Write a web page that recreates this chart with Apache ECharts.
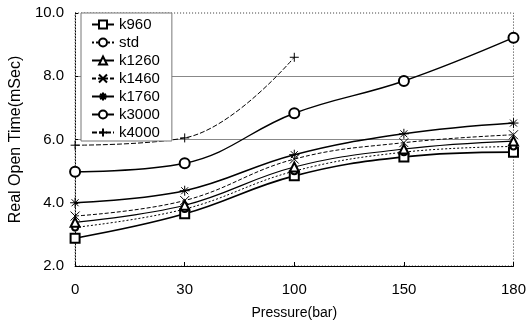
<!DOCTYPE html>
<html>
<head>
<meta charset="utf-8">
<script src="https://cdn.jsdelivr.net/npm/echarts@6/dist/echarts.min.js"></script>
<style>
  html, body { margin: 0; padding: 0; background: #fff; }
  #chart { width: 529px; height: 326px; }
</style>
</head>
<body>
<div id="chart"></div>
<script>
  // 读图估计的数据
  const pressure = ["0", "30", "100", "150", "180"];
  const k960 = [2.88, 3.65, 4.85, 5.45, 5.6];
  const std = [3.22, 3.8, 5.0, 5.6, 5.78];
  const k1260 = [3.38, 3.92, 5.13, 5.7, 5.95];
  const k1460 = [3.58, 4.07, 5.38, 5.9, 6.15];
  const k1760 = [4.0, 4.38, 5.52, 6.18, 6.52];
  const k3000 = [4.98, 5.25, 6.83, 7.85, 9.22];
  const k4000 = [5.82, 6.05, 8.6, null, null];

  const font = "Liberation Sans, Arial, sans-serif";

  const xMark = "path://M0,0L10,10M0,10L10,0";
  const starMark = "path://M0,5L10,5M5,0L5,10M1.5,1.5L8.5,8.5M1.5,8.5L8.5,1.5";
  const plusMark = "path://M0,5L10,5M5,0L5,10";

  function line(name, data, symbol, size, width, type) {
    return {
      name: name,
      type: "line",
      data: data,
      smooth: 0.4,
      symbol: symbol,
      symbolSize: size,
      showAllSymbol: true,
      connectNulls: false,
      lineStyle: { color: "#000", width: width, type: type },
      itemStyle: { color: "#000", borderColor: "#000", borderWidth: 1 },
      emphasis: { disabled: true },
    };
  }

  const chart = echarts.init(document.getElementById("chart"), null, { renderer: "canvas" });

  chart.setOption({
    animation: false,
    backgroundColor: "#fff",
    textStyle: { fontFamily: font, color: "#000" },
    grid: {
      left: 73,
      right: 13,
      top: 13,
      bottom: 60,
      show: true,
      borderColor: "#333",
      borderWidth: 1,
      borderType: [1, 2],
    },
    legend: {
      orient: "vertical",
      left: 81,
      top: 13,
      padding: [4, 12, 1, 10],
      itemWidth: 22,
      itemHeight: 10,
      itemGap: 3,
      backgroundColor: "#fff",
      borderColor: "#777",
      borderWidth: 1,
      textStyle: { fontSize: 15, color: "#000", fontFamily: font },
      data: ["k960", "std", "k1260", "k1460", "k1760", "k3000", "k4000"],
    },
    xAxis: {
      type: "category",
      boundaryGap: false,
      data: pressure,
      name: "Pressure(bar)",
      nameLocation: "middle",
      nameGap: 40,
      nameTextStyle: { fontSize: 14, color: "#000" },
      axisLine: { lineStyle: { color: "#000", width: 1 } },
      axisTick: { inside: true, length: 4, lineStyle: { color: "#000" } },
      axisLabel: { fontSize: 15, color: "#000", margin: 16 },
      splitLine: { show: false },
    },
    yAxis: {
      type: "value",
      min: 2,
      max: 10,
      interval: 2,
      name: "Real Open Time(mSec)",
      nameLocation: "middle",
      nameGap: 50,
      nameTextStyle: { fontSize: 16, color: "#000" },
      axisLine: { show: true, lineStyle: { color: "#000", width: 1, type: [1, 2] } },
      axisTick: { show: true, inside: true, length: 3, lineStyle: { color: "#000" } },
      axisLabel: {
        fontSize: 15,
        color: "#000",
        margin: 11,
        formatter: (v) => v.toFixed(1),
      },
      splitLine: {
        show: true,
        lineStyle: { color: ["transparent", "transparent", "#888", "#888", "transparent"], width: 1 },
      },
    },
    series: [
      line("k960", k960, "emptyRect", 9, 1.6, "solid"),
      line("std", std, "emptyCircle", 6, 1, [2, 2]),
      line("k1260", k1260, "emptyTriangle", 9, 1.2, "solid"),
      line("k1460", k1460, xMark, 9, 1, [4, 2]),
      line("k1760", k1760, starMark, 10, 1.6, "solid"),
      line("k3000", k3000, "emptyCircle", 10, 1.4, "solid"),
      line("k4000", k4000, plusMark, 9, 1, [5, 2]),
    ],
  });
</script>
</body>
</html>
